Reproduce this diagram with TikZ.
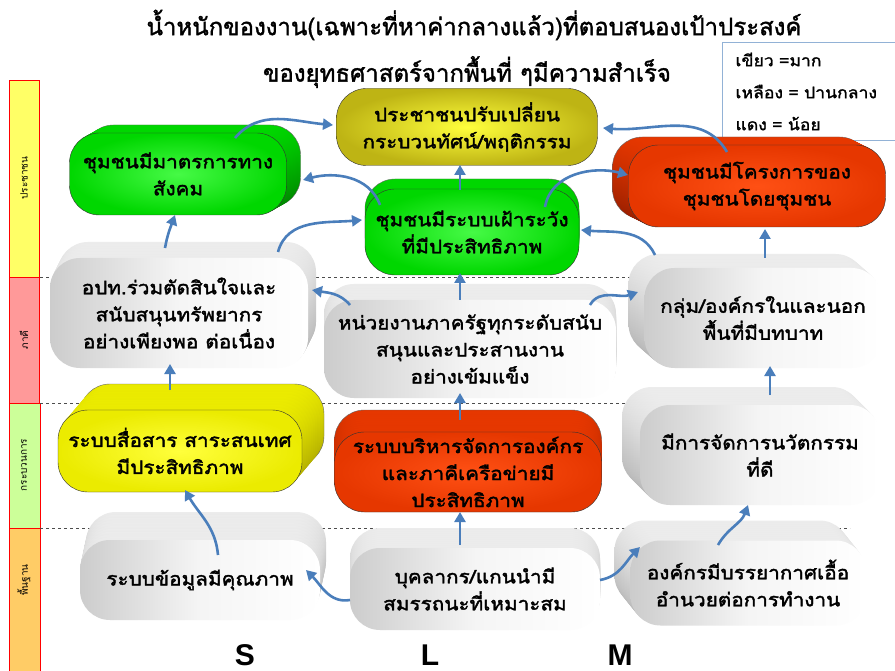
\documentclass[tikz,border=0pt]{standalone}
\usepackage{fontspec}
\newfontfamily\thaifont[Script=Thai]{Loma}
\newfontfamily\thaiheavy[Script=Thai, FakeBold=2, FakeStretch=1.12]{Loma}
\newfontfamily\titlefont[Script=Thai, FakeBold=1.5]{Loma}
\newfontfamily\keyfont[Script=Thai, FakeBold=1.5, FakeStretch=1.1]{Loma}
\setsansfont{Liberation Sans}
\usetikzlibrary{arrows.meta}
\usetikzlibrary{calc}
\definecolor[named]{PillGreen}{RGB}{0,215,0}
\definecolor[named]{PillGreenLt}{RGB}{70,250,70}
\definecolor[named]{PillGreenDk}{RGB}{0,130,0}
\definecolor[named]{PillYellow}{RGB}{235,235,0}
\definecolor[named]{PillYellowLt}{RGB}{255,255,60}
\definecolor[named]{PillYellowDk}{RGB}{170,165,0}
\definecolor[named]{PillOlive}{RGB}{190,180,20}
\definecolor[named]{PillRed}{RGB}{230,55,0}
\definecolor[named]{PillRedLt}{RGB}{255,80,20}
\definecolor[named]{PillRedDk}{RGB}{150,30,0}
\definecolor[named]{ArrowBlue}{RGB}{74,126,187}
\definecolor[named]{BandYellow}{RGB}{255,255,102}
\definecolor[named]{BandRed}{RGB}{255,153,153}
\definecolor[named]{BandGreen}{RGB}{204,255,153}
\definecolor[named]{BandOrange}{RGB}{255,204,102}
\newcommand{\nodefont}{\thaiheavy\fontsize{18.5}{27}\selectfont}
\tikzset{
  face/.style={rectangle, rounded corners=30pt, inner sep=0pt, align=center, font=\nodefont},
  greyface/.style={face, left color=gray!40, right color=white, middle color=gray!8},
  greyside/.style={rounded corners=30pt, top color=gray!15, bottom color=gray!60},
  greyedge/.style={},
  greenface/.style={face, draw=black!80, inner color=PillGreenLt, outer color=PillGreen},
  greenside/.style={rounded corners=30pt, top color=PillGreen, bottom color=PillGreenDk},
  greenedge/.style={draw=black!60},
  yellowface/.style={face, draw=black!80, inner color=PillYellowLt, outer color=PillYellow},
  yellowside/.style={rounded corners=30pt, top color=PillYellow, bottom color=PillYellowDk},
  yellowedge/.style={draw=black!60},
  oliveface/.style={face, draw=black!80, inner color=PillYellowLt, outer color=PillOlive},
  oliveside/.style={rounded corners=30pt},
  oliveedge/.style={},
  redface/.style={face, draw=black!80, inner color=PillRedLt, outer color=PillRed},
  redside/.style={rounded corners=30pt, top color=PillRed, bottom color=PillRedDk},
  rededge/.style={draw=black!60},
  flow/.style={draw=ArrowBlue, line width=2.6pt, -{Triangle[length=10pt,width=11pt]}},
  band/.style={draw=red, line width=0.8pt},
  guide/.style={draw=black!70, dashed, line width=0.6pt},
}
% name, x, y, width, height, dx, dy, kind, text
\newcommand{\pill}[9]{%
  \path[#8side, #8edge] ({#2+(#6)-(#4)/2},{#3+(#7)-(#5)/2}) rectangle ++(#4,#5);
  \foreach \k in {9,8,...,1}
    \path[#8side] ({#2+\k*(#6)/10-(#4)/2},{#3+\k*(#7)/10-(#5)/2}) rectangle ++(#4,#5);
  \node[#8face, minimum width=#4pt, minimum height=#5pt] (#1) at (#2,#3) {#9};
}

\begin{document}
\begin{tikzpicture}[x=1pt,y=1pt]
  \useasboundingbox[fill=white] (0,0) rectangle (895,-671);

  % strategy levels
  \draw[band, fill=BandYellow] (9,-80) rectangle (39,-277);
  \draw[band, fill=BandRed] (9,-277) rectangle (39,-403);
  \draw[band, fill=BandGreen] (9,-403) rectangle (40,-528);
  \draw[band, fill=BandOrange] (9,-528) rectangle (40,-671);
  \node[rotate=90, font=\thaifont\fontsize{10}{12}\selectfont] (lvl1) at (24,-178) {ประชาชน};
  \node[rotate=90, font=\thaifont\fontsize{10}{12}\selectfont] (lvl2) at (24,-340) {ภาคี};
  \node[rotate=90, font=\thaifont\fontsize{10}{12}\selectfont] (lvl3) at (24,-465) {กระบวนการ};
  \node[rotate=90, font=\thaifont\fontsize{10}{12}\selectfont] (lvl4) at (24,-580) {พื้นฐาน};
  \draw[guide] (40,-277) -- (850,-277);
  \draw[guide] (40,-403) -- (850,-403);
  \draw[guide] (40,-528) -- (850,-528);

  % title and key
  \node[font=\titlefont\fontsize{24}{28}\selectfont] (title1) at (474,-25) {น้ำหนักของงาน(เฉพาะที่หาค่ากลางแล้ว)ที่ตอบสนองเป้าประสงค์};
  \node[font=\titlefont\fontsize{24}{28}\selectfont] (title2) at (467,-72) {ของยุทธศาสตร์จากพื้นที่ ๆมีความสำเร็จ};
  \node[draw=ArrowBlue!60, fill=white, line width=1pt, anchor=north west, minimum width=200pt, minimum height=98pt,
        text width=180pt, inner xsep=13pt, align=left, font=\keyfont\fontsize{16}{32}\selectfont] (key) at (722,-42)
        {เขียว =มาก\\เหลือง = ปานกลาง\\แดง = น้อย};

  % outcomes
  \pill{n1}{467}{-127}{261}{77}{0}{0}{olive}{ประชาชนปรับเปลี่ยน\\กระบวนทัศน์/พฤติกรรม}
  \pill{n2}{178}{-174}{217}{82}{14}{8}{green}{ชุมชนมีมาตรการทาง\\สังคม}
  \pill{n3}{757}{-186}{257}{82}{-16}{8}{red}{ชุมชนมีโครงการของ\\ชุมชนโดยชุมชน}
  \pill{n4}{472}{-232}{214}{86}{0}{10}{green}{ชุมชนมีระบบเฝ้าระวัง\\ที่มีประสิทธิภาพ}
  % partners
  \pill{n5}{179}{-313}{258}{110}{8}{16}{grey}{อปท.ร่วมตัดสินใจและ\\สนับสนุนทรัพยากร\\อย่างเพียงพอ ต่อเนื่อง}
  \pill{n6}{470}{-349}{292}{98}{0}{16}{grey}{หน่วยงานภาครัฐทุกระดับสนับ\\สนุนและประสานงาน\\อย่างเข้มแข็ง}
  \pill{n7}{763}{-318}{237}{100}{-16}{14}{grey}{กลุ่ม/องค์กรในและนอก\\พื้นที่มีบทบาท}
  % process
  \pill{n8}{180}{-451}{244}{82}{22}{26}{yellow}{ระบบสื่อสาร สาระสนเทศ\\มีประสิทธิภาพ}
  \pill{n9}{468}{-472}{267}{80}{0}{22}{red}{ระบบบริหารจัดการองค์กร\\และภาคีเครือข่ายมี\\ประสิทธิภาพ}
  \pill{n10}{760}{-455}{240}{100}{-18}{18}{grey}{มีการจัดการนวัตกรรม\\ที่ดี}
  % foundation
  \pill{n11}{200}{-580}{240}{80}{6}{28}{grey}{ระบบข้อมูลมีคุณภาพ}
  \pill{n12}{475}{-589}{250}{82}{0}{20}{grey}{บุคลากร/แกนนำมี\\สมรรถนะที่เหมาะสม}
  \pill{n13}{748}{-583}{235}{85}{-16}{20}{grey}{องค์กรมีบรรยากาศเอื้อ\\อำนวยต่อการทำงาน}

  \node[font=\sffamily\bfseries\fontsize{30}{30}\selectfont] (colS) at (245,-655) {S};
  \node[font=\sffamily\bfseries\fontsize{30}{30}\selectfont] (colL) at (430,-655) {L};
  \node[font=\sffamily\bfseries\fontsize{30}{30}\selectfont] (colM) at (620,-655) {M};

  % links
  \draw[flow] ([shift={(-125,-11)}]n12.center) to[out=190,in=-45] ([shift={(106,10)}]n11.center);
  \draw[flow] ([shift={(125,9)}]n12.center) to[out=10,in=225] ([shift={(-108,36)}]n13.center);
  \draw[flow] ([shift={(-15,44)}]n12.center) -- ([shift={(-8,-40)}]n9.center);
  \draw[flow] ([shift={(18,25)}]n11.center) to[out=95,in=-60] ([shift={(5,-39)}]n8.center);
  \draw[flow] ([shift={(-30,38)}]n13.center) to[out=60,in=-110] ([shift={(-12,-50)}]n10.center);
  \draw[flow] ([shift={(-8,52)}]n9.center) -- ([shift={(-10,-44)}]n6.center);
  \draw[flow] ([shift={(-10,61)}]n8.center) -- ([shift={(-9,-51)}]n5.center);
  \draw[flow] ([shift={(10,60)}]n10.center) -- ([shift={(7,-48)}]n7.center);
  \draw[flow] ([shift={(-120,44)}]n6.center) to[out=130,in=-10] ([shift={(133,23)}]n5.center);
  \draw[flow] ([shift={(-10,49)}]n6.center) -- ([shift={(-12,-41)}]n4.center);
  \draw[flow] ([shift={(120,44)}]n6.center) to[out=60,in=200] ([shift={(-125,26)}]n7.center);
  \draw[flow] ([shift={(-14,65)}]n5.center) to[out=80,in=-110] ([shift={(-3,-41)}]n2.center);
  \draw[flow] ([shift={(99,61)}]n5.center) to[out=75,in=185] ([shift={(-110,12)}]n4.center);
  \draw[flow] ([shift={(-92,27)}]n4.center) to[out=110,in=15] ([shift={(125,-6)}]n2.center);
  \draw[flow] ([shift={(-12,42)}]n4.center) -- ([shift={(-7,-38)}]n1.center);
  \draw[flow] ([shift={(73,25)}]n4.center) to[out=80,in=165] ([shift={(-129,11)}]n3.center);
  \draw[flow] ([shift={(57,36)}]n2.center) to[out=50,in=175] ([shift={(-134,2)}]n1.center);
  \draw[flow] ([shift={(-30,34)}]n3.center) to[out=120,in=-5] ([shift={(136,-1)}]n1.center);
  \draw[flow] ([shift={(-108,63)}]n7.center) to[out=115,in=-5] ([shift={(109,2)}]n4.center);
  \draw[flow] ([shift={(2,60)}]n7.center) -- ([shift={(8,-43)}]n3.center);
\end{tikzpicture}
\end{document}
